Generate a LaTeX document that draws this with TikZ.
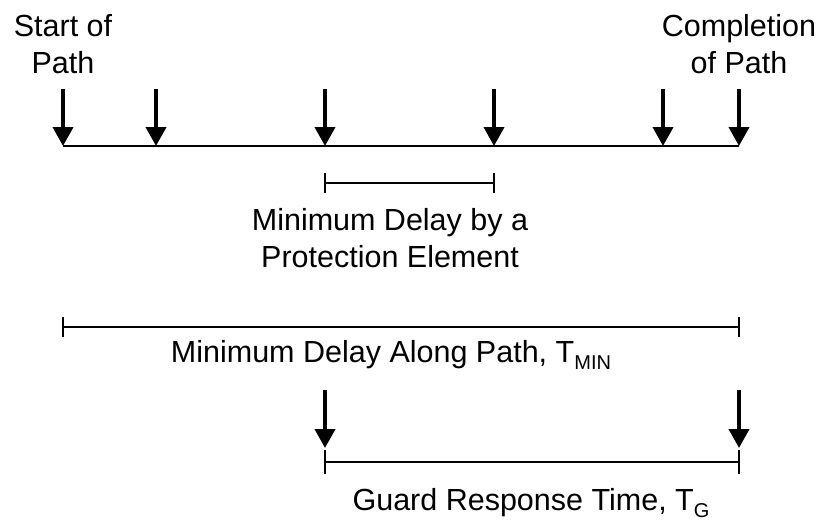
\documentclass[tikz,border=0pt]{standalone}
\usepackage{fontspec}
\setmainfont{Liberation Sans}
\usetikzlibrary{arrows.meta}
\newcommand{\sbs}[1]{\raisebox{-7pt}{\fontsize{20}{20}\selectfont #1}}
\tikzset{
  every node/.style={inner sep=0pt, outer sep=0pt, font=\fontsize{30.5}{37}\selectfont, align=center},
  evt/.style={-{Triangle[width=20pt,length=19pt]}, line width=4pt},
  span/.style={line width=2pt},
  tick/.style={line width=2pt},
}
\begin{document}
\begin{tikzpicture}[x=1pt,y=-1pt]
\useasboundingbox (0,0) rectangle (817,525);
% main path line
\coordinate (p0) at (63,146);
\coordinate (p1) at (156,146);
\coordinate (p2) at (325,146);
\coordinate (p3) at (494,146);
\coordinate (p4) at (663,146);
\coordinate (p5) at (739,146);
\draw[span] (p0) -- (p5);
\foreach \i in {0,...,5} {
  \coordinate (a\i) at ([yshift=57pt]p\i);
  \draw[evt] (a\i) -- (p\i);
}
% labels at top (base anchor = last line)
\node[anchor=base] (start) at (63,73) {Start of\\Path};
\node[anchor=base] (compl) at (739,73) {Completion\\of Path};
% small interval
\coordinate (s0) at (325,183);
\coordinate (s1) at (494,183);
\draw[span] (s0) -- (s1);
\draw[tick] ([yshift=10pt]s0) -- ([yshift=-10pt]s0);
\draw[tick] ([yshift=10pt]s1) -- ([yshift=-10pt]s1);
\node[anchor=base] (minpe) at (390,267) {Minimum Delay by a\\Protection Element};
% big interval
\coordinate (b0) at (63,327);
\coordinate (b1) at (739,327);
\draw[span] (b0) -- (b1);
\draw[tick] ([yshift=10pt]b0) -- ([yshift=-10pt]b0);
\draw[tick] ([yshift=10pt]b1) -- ([yshift=-10pt]b1);
\node[anchor=base] (tmin) at (391,362) {Minimum Delay Along Path, T\sbs{MIN}};
% guard interval
\coordinate (g0) at (325,448);
\coordinate (g1) at (739,448);
\coordinate (ga0) at (325,390);
\coordinate (ga1) at (739,390);
\draw[evt] (ga0) -- (g0);
\draw[evt] (ga1) -- (g1);
\coordinate (h0) at (325,462);
\coordinate (h1) at (739,462);
\draw[span] (h0) -- (h1);
\draw[tick] ([yshift=12pt]h0) -- ([yshift=-12pt]h0);
\draw[tick] ([yshift=12pt]h1) -- ([yshift=-12pt]h1);
\node[anchor=base] (tg) at (531,510) {Guard Response Time, T\sbs{G}};
\end{tikzpicture}
\end{document}
